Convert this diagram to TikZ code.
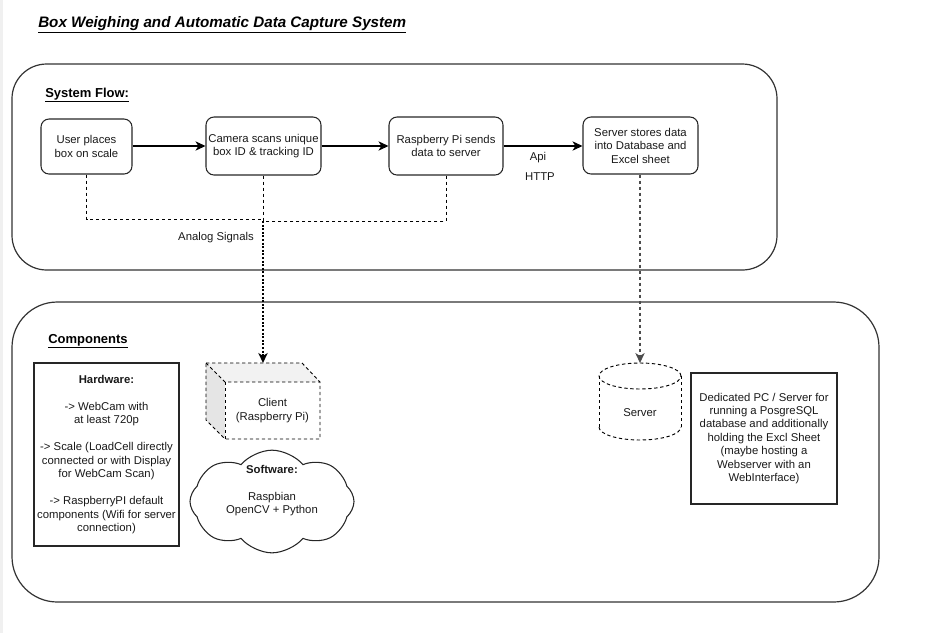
\documentclass[tikz,border=0pt]{standalone}
\usepackage{fontspec}
\setmainfont{Liberation Sans}
\usetikzlibrary{arrows.meta,shapes.symbols}
\begin{document}
\begin{tikzpicture}[x=0.75pt,y=-0.75pt,
  txt/.style={font=\fontsize{8.5}{10.1}\selectfont, align=center, inner sep=0pt, text=black!90},
  flowbox/.style={draw=black!85, line width=0.8pt, rounded corners=6pt, txt},
  plainbox/.style={draw=black!85, line width=0.8pt, txt},
  container/.style={draw=black!80, line width=0.9pt},
  tip/.style={-{Stealth[length=7.5pt,width=7pt,inset=2.2pt]}},
  arr/.style={tip, line width=0.8pt},
  dsh/.style={line width=0.7pt, dash pattern=on 2.5pt off 2pt},
  heavy/.style={line width=1.5pt, dash pattern=on 1.5pt off 1.2pt},
  hdr/.style={anchor=base west, inner sep=0pt, font=\fontsize{9.75}{11}\selectfont\bfseries}
]
\useasboundingbox (0,0) rectangle (932,633);
\fill[gray!12] (0,0) rectangle (2.5,633);

% title
\node[anchor=base west, inner sep=0pt, font=\fontsize{11.4}{13}\selectfont\bfseries\itshape] (title) at (38,27.5) {\underline{Box Weighing and Automatic Data Capture System}};

% containers
\node[container, rounded corners=26pt, minimum width=573.75pt, minimum height=154.5pt] (flow) at (394.5,167) {};
\node[container, rounded corners=34pt, minimum width=650.25pt, minimum height=225pt] (comp) at (445.5,452) {};

\node[hdr] (flowlbl) at (45,97) {\underline{System Flow:}};
\node[hdr] (complbl) at (48,343) {\underline{Components}};

% flow boxes
\node[flowbox, minimum width=68.25pt, minimum height=41.25pt] (b1) at (86.5,146.5) {User places\\box on scale};
\node[flowbox, minimum width=86.25pt, minimum height=43.5pt] (b2) at (263.5,146) {Camera scans unique\\box ID \& tracking ID};
\node[flowbox, minimum width=85.5pt, minimum height=43.5pt] (b3) at (446,146) {Raspberry Pi sends\\data to server};
\node[flowbox, minimum width=86.25pt, minimum height=42.75pt] (b4) at (640.5,145.5) {Server stores data\\into Database and\\Excel sheet};

\draw[arr] (b1.east |- 0,146) -- (b2.west |- 0,146);
\draw[arr] (b2.east |- 0,146) -- (b3.west |- 0,146);
\draw[arr] (b3.east |- 0,146) -- (b4.west |- 0,146);

\node[txt] (api) at (538,158) {Api};
\node[txt] (http) at (540,177) {HTTP};

% analog signal lines
\coordinate (j1) at (263,219);
\coordinate (j3) at (263,221);
\coordinate (clienttop) at (263,363);
\draw[dsh] (b1.south) |- (j1);
\draw[dsh] (b3.south) |- (j3);
\draw[dsh] (b2.south -| clienttop) -- (j3);
\draw[heavy, tip] (j3) -- (clienttop);
\node[txt] (analog) at (216,238) {Analog Signals};

% client cube
\fill[gray!10] (206,363) -- (302,363) -- (320,382) -- (225,382) -- cycle;
\fill[gray!20] (206,363) -- (225,382) -- (225,439) -- (206,420) -- cycle;
\draw[dsh] (206,363) -- (302,363) -- (320,382) -- (320,439) -- (225,439) -- (206,420) -- cycle;
\draw[dsh] (206,363) -- (225,382) -- (320,382);
\draw[dsh] (225,382) -- (225,439);
\node[txt, minimum width=71.25pt, minimum height=42.75pt] (client) at (272.5,410.5) {Client\\(Raspberry Pi)};

% hardware
\node[plainbox, minimum width=108.75pt, minimum height=137.25pt] (hw) at (106.5,454.5) {\textbf{Hardware:}\\[10.1pt]-> WebCam with\\at least 720p\\[10.1pt]-> Scale (LoadCell directly\\connected or with Display\\for WebCam Scan)\\[10.1pt]-> RaspberryPI default\\components (Wifi for server\\connection)};

% software cloud
\node[cloud, draw=black!85, line width=0.8pt, cloud puffs=8, cloud puff arc=100, aspect=1.6, minimum width=123pt, minimum height=77pt, inner sep=0pt] (cloud) at (272,501.5) {};
\node[txt] (soft) at (272,490.5) {\textbf{Software:}\\[10.1pt]Raspbian\\OpenCV + Python};

% server cylinder
\coordinate (srvtop) at (640,363);
\draw[dsh] (640,376) ellipse [x radius=30.75pt, y radius=9.75pt];
\draw[dsh] (599,376) -- (599,427);
\draw[dsh] (681,376) -- (681,427);
\draw[dsh] (599,427) arc[start angle=180, end angle=360, x radius=30.75pt, y radius=9.75pt];
\node[txt] (server) at (640,413) {Server};
\draw[dsh, draw=black!70, arr] (b4.south -| srvtop) -- (srvtop);

% server description
\node[plainbox, minimum width=109.5pt, minimum height=98.25pt] (desc) at (764,438.5) {Dedicated PC / Server for\\running a PosgreSQL\\database and additionally\\holding the Excl Sheet\\(maybe hosting a\\Webserver with an\\WebInterface)};
\end{tikzpicture}
\end{document}
